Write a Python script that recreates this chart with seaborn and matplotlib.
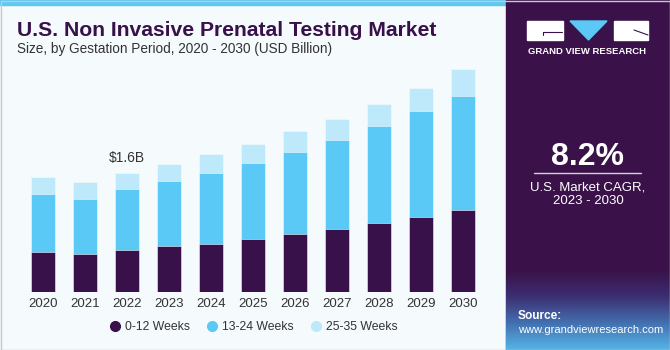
import numpy as np
import pandas as pd
import matplotlib
matplotlib.use("Agg")
import matplotlib.pyplot as plt
import matplotlib.patches as mpatches
from matplotlib.lines import Line2D
import seaborn as sns

# data (USD Billion)
years = ["2020", "2021", "2022", "2023", "2024", "2025", "2026", "2027", "2028", "2029", "2030"]
weeks_0_12 = [0.53, 0.51, 0.56, 0.61, 0.65, 0.71, 0.78, 0.85, 0.93, 1.01, 1.10]
weeks_13_24 = [0.79, 0.74, 0.82, 0.88, 0.95, 1.02, 1.10, 1.19, 1.29, 1.41, 1.53]
weeks_25_35 = [0.22, 0.22, 0.22, 0.23, 0.25, 0.26, 0.28, 0.28, 0.30, 0.32, 0.36]
series_names = ["0-12 Weeks", "13-24 Weeks", "25-35 Weeks"]
colors = ["#38104a", "#5bc9f5", "#bde9fa"]
annot_year = "2022"
annot_text = "$1.6B"

sns.set_theme(style="white")
plt.rcParams['font.family'] = ['Liberation Sans', 'DejaVu Sans']

bg = "#f5fafd"
purple = "#3a1249"

fig = plt.figure(figsize=(6.7, 3.5), dpi=100)
fig.patch.set_facecolor(bg)

# top stripe + right panel
fig.add_artist(mpatches.Rectangle((0, 1 - 5 / 350), 506 / 670, 5 / 350, transform=fig.transFigure,
                                  color="#5bc8f5", zorder=0))
fig.add_artist(mpatches.Rectangle((506 / 670, 0), 1 - 506 / 670, 1, transform=fig.transFigure,
                                  color=purple, zorder=0))
fig.add_artist(mpatches.Rectangle((0.5 / 670, 0.5 / 350), 1 - 1 / 670, 1 - 1 / 350, transform=fig.transFigure,
                                  fill=False, edgecolor="#c8c8c8", lw=1, zorder=5))

# gradient at bottom of the panel
gax = fig.add_axes([506 / 670, 0, 1 - 506 / 670, 80 / 350])
grad = np.linspace(0, 1, 100).reshape(-1, 1)
cmap = matplotlib.colors.LinearSegmentedColormap.from_list("g", ["#55b4e6", "#4470b0", "#3c2f72", purple])
gax.imshow(grad, aspect="auto", cmap=cmap, origin="lower", extent=[0, 1, 0, 1])
gax.axis("off")

# main chart
df = pd.DataFrame({"year": years, "a": weeks_0_12, "b": weeks_13_24, "c": weeks_25_35})
df["ab"] = df["a"] + df["b"]
df["abc"] = df["ab"] + df["c"]

ax = fig.add_axes([22 / 670, 58 / 350, 462 / 670, 232 / 350])
ax.set_facecolor(bg)
for col, c in zip(["abc", "ab", "a"], colors[::-1]):
    sns.barplot(data=df, x="year", y=col, color=c, width=0.57, saturation=1, ax=ax,
                edgecolor=bg, linewidth=0.4)
ax.set_ylim(0, 3.11)
ax.set_xlim(-0.5, len(years) - 0.5)
ax.set_xlabel("")
ax.set_ylabel("")
ax.set_yticks([])
ax.tick_params(axis="x", length=0, pad=4, labelsize=9.5, labelcolor="#333333")
sns.despine(ax=ax, left=True, bottom=True)

i = years.index(annot_year)
ax.text(i, df["abc"][i] + 0.1, annot_text, ha="center", va="bottom", fontsize=10, color="#333333")

# legend
handles = [Line2D([], [], marker="o", ls="", markersize=7, markerfacecolor=c, markeredgecolor=c) for c in colors]
fig.legend(handles, series_names, loc="center", bbox_to_anchor=(252 / 670, 1 - 327 / 350), ncol=3,
           frameon=False, fontsize=8.8, handletextpad=0.1, columnspacing=1.15, handlelength=1.4,
           labelcolor="#333333")

# titles
fig.text(17 / 670, 1 - 36 / 350, "U.S. Non Invasive Prenatal Testing Market", fontsize=15.2,
         fontweight="heavy", color="#38104a", ha="left", va="baseline")
fig.text(17 / 670, 1 - 53 / 350, "Size, by Gestation Period, 2020 - 2030 (USD Billion)", fontsize=9.8,
         color="#333333", ha="left", va="baseline")

# logo
def px(x, y):
    return (x / 670, 1 - y / 350)

fig.add_artist(mpatches.Rectangle(px(527, 40), 36 / 670, 19 / 350, transform=fig.transFigure, color="white"))
fig.add_artist(mpatches.Rectangle(px(614, 40), 34 / 670, 19 / 350, transform=fig.transFigure, color="white"))
fig.add_artist(mpatches.Polygon([px(570, 21), px(607, 21), px(588.5, 40)], closed=True,
                                transform=fig.transFigure, color="#5bc8f5"))
fig.add_artist(Line2D([543 / 670, 562 / 670], [1 - 32 / 350, 1 - 32 / 350], transform=fig.transFigure,
                      color=purple, lw=0.8))
fig.add_artist(Line2D([543 / 670, 543 / 670], [1 - 32 / 350, 1 - 35 / 350], transform=fig.transFigure,
                      color=purple, lw=0.8))
fig.add_artist(Line2D([634 / 670, 648 / 670], [1 - 30 / 350, 1 - 35 / 350], transform=fig.transFigure,
                      color=purple, lw=0.8))
fig.text(587 / 670, 1 - 52 / 350, "GRAND VIEW RESEARCH", fontsize=6.8, fontweight="bold", color="white",
         ha="center", va="center")

# CAGR block
fig.text(587 / 670, 1 - 165 / 350, "8.2%", fontsize=23, fontweight="bold", color="white",
         ha="center", va="baseline")
fig.add_artist(Line2D([534 / 670, 641 / 670], [1 - 173 / 350, 1 - 173 / 350], transform=fig.transFigure,
                      color="#d8d0dc", lw=1))
fig.text(588 / 670, 1 - 187 / 350, "U.S. Market CAGR,", fontsize=9.5, color="white", ha="center", va="center")
fig.text(588 / 670, 1 - 201 / 350, "2023 - 2030", fontsize=9.5, color="white", ha="center", va="center")

# source
fig.text(518 / 670, 1 - 316 / 350, "Source:", fontsize=8.6, fontweight="bold", color="white",
         ha="left", va="center")
fig.text(518 / 670, 1 - 330 / 350, "www.grandviewresearch.com", fontsize=8.0, color="white",
         ha="left", va="center")

fig.savefig("out.png", dpi=100, facecolor=fig.get_facecolor())
